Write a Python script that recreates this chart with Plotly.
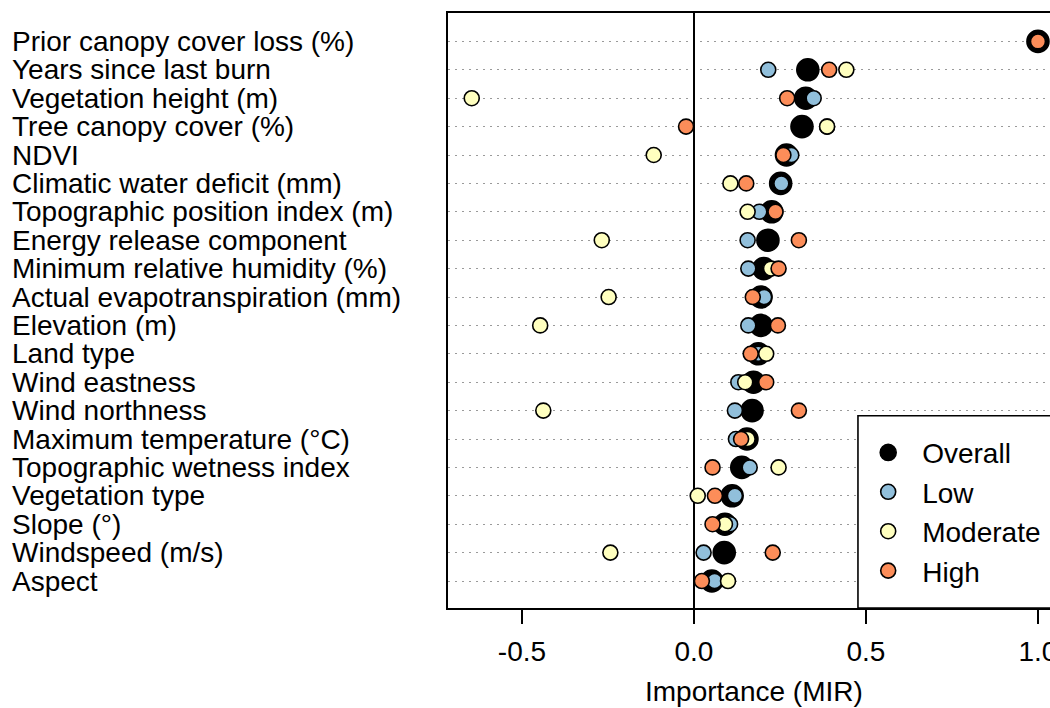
import plotly.graph_objects as go

categories = [
    "Prior canopy cover loss (%)", "Years since last burn", "Vegetation height (m)",
    "Tree canopy cover (%)", "NDVI", "Climatic water deficit (mm)",
    "Topographic position index (m)", "Energy release component",
    "Minimum relative humidity (%)", "Actual evapotranspiration (mm)", "Elevation (m)",
    "Land type", "Wind eastness", "Wind northness", "Maximum temperature (\u00b0C)",
    "Topographic wetness index", "Vegetation type", "Slope (\u00b0)", "Windspeed (m/s)", "Aspect",
]
overall = [1.0, 0.331, 0.325, 0.314, 0.269, 0.252, 0.226, 0.215, 0.203, 0.195,
           0.195, 0.187, 0.173, 0.169, 0.154, 0.139, 0.111, 0.090, 0.088, 0.052]
low = [1.0, 0.216, 0.348, 0.387, 0.283, 0.254, 0.190, 0.156, 0.158, 0.204,
       0.158, 0.187, 0.129, 0.119, 0.122, 0.162, 0.119, 0.105, 0.028, 0.060]
moderate = [1.0, 0.443, -0.646, 0.387, -0.117, 0.106, 0.156, -0.268, 0.224, -0.248,
            -0.447, 0.210, 0.149, -0.438, 0.156, 0.246, 0.011, 0.090, -0.243, 0.099]
high = [1.0, 0.393, 0.271, -0.023, 0.260, 0.152, 0.237, 0.305, 0.246, 0.171,
        0.244, 0.165, 0.210, 0.305, 0.137, 0.054, 0.061, 0.054, 0.229, 0.023]
x_ticks = [-0.5, 0.0, 0.5, 1.0]
x_ticklabels = ["-0.5", "0.0", "0.5", "1.0"]

FONT = "Liberation Sans, Arial, sans-serif"
FS = 28

fig = go.Figure()
series = [
    ("Overall", overall, "black", 22),
    ("Low", low, "#91bfdb", 15),
    ("Moderate", moderate, "#ffffbf", 15),
    ("High", high, "#fc8d59", 15),
]
for name, vals, col, size in series:
    fig.add_trace(go.Scatter(
        x=vals, y=categories, mode="markers", name="\u2002" + name,
        marker=dict(color=col, size=size, line=dict(color="black", width=1.6)),
        cliponaxis=False,
    ))

# left-aligned category labels
for c in categories:
    fig.add_annotation(x=-0.728, xref="paper", y=c, yref="y", text=c, showarrow=False,
                       xanchor="left", yanchor="middle", font=dict(size=FS, color="black", family=FONT))

# x-axis title centered on full plot width
fig.add_annotation(x=0.175, xref="x", y=-0.141, yref="paper", text="Importance (MIR)", showarrow=False,
                   xanchor="center", yanchor="middle", font=dict(size=FS, color="black", family=FONT))

# legend frame (extends past right edge like the reference)
fig.add_shape(type="rect", xref="paper", yref="paper", x0=0.681, x1=1.2, y0=0, y1=0.323,
              line=dict(color="black", width=1.6), fillcolor="white", layer="above")

fig.update_layout(
    width=1050, height=708,
    margin=dict(l=448, r=0, t=13, b=100, autoexpand=False),
    paper_bgcolor="white", plot_bgcolor="white",
    font=dict(family=FONT, size=FS, color="black"),
    showlegend=True,
    legend=dict(x=0.698, y=0.303, xanchor="left", yanchor="top", bgcolor="rgba(0,0,0,0)",
                borderwidth=0, font=dict(size=FS, family=FONT, color="black"),
                itemsizing="trace", tracegroupgap=0),
    xaxis=dict(range=[-0.715, 1.035], tickvals=x_ticks, ticktext=x_ticklabels,
               ticks="outside", ticklen=14, tickwidth=1.5, tickcolor="black",
               showline=True, linecolor="black", linewidth=1.6, mirror=True,
               showgrid=False, zeroline=True, zerolinecolor="black", zerolinewidth=1.6,
               tickfont=dict(size=FS, family=FONT, color="black"), ticklabelstandoff=4,
               ticklabeloverflow="allow"),
    yaxis=dict(type="category", categoryorder="array", categoryarray=categories[::-1],
               range=[-0.95, 20.0], showticklabels=False, ticks="",
               showline=True, linecolor="black", linewidth=1.6, mirror=False,
               showgrid=True, gridcolor="#9a9a9a", gridwidth=1.4, griddash="2px,5px",
               zeroline=False),
)

fig.write_html("out.html", config={"displayModeBar": False},
               post_script="document.body.style.margin='0px';document.body.style.overflow='hidden';")
